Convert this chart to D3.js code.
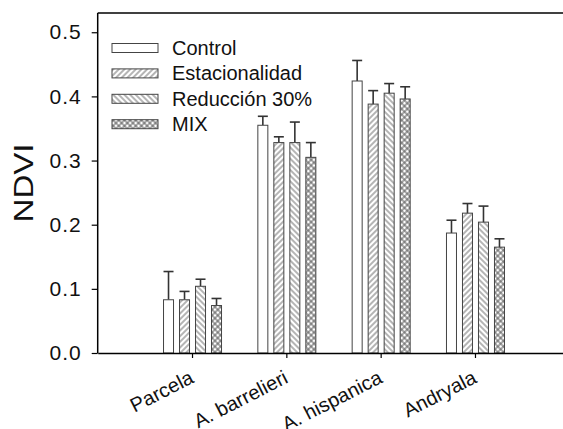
<!DOCTYPE html>
<html>
<head>
<meta charset="utf-8">
<script src="https://cdn.jsdelivr.net/npm/d3@7"></script>
<style>
  html, body { margin: 0; padding: 0; background: #fff; }
  svg { display: block; font-family: "Liberation Sans", Arial, sans-serif; }
</style>
</head>
<body>
<svg id="chart" width="563" height="429"></svg>
<script>
// NDVI by plot / species under each treatment (mean and upper error)
const categories = ["Parcela", "A. barrelieri", "A. hispanica", "Andryala"];
const series = ["Control", "Estacionalidad", "Reducción 30%", "MIX"];

const controlMean = [0.083, 0.355, 0.424, 0.187];
const controlErr  = [0.044, 0.014, 0.032, 0.020];
const estacMean   = [0.083, 0.328, 0.388, 0.218];
const estacErr    = [0.013, 0.009, 0.021, 0.015];
const reducMean   = [0.104, 0.328, 0.405, 0.204];
const reducErr    = [0.011, 0.032, 0.015, 0.025];
const mixMean     = [0.074, 0.305, 0.396, 0.165];
const mixErr      = [0.011, 0.023, 0.019, 0.013];

const yTicks = [0.0, 0.1, 0.2, 0.3, 0.4, 0.5];

const means = [controlMean, estacMean, reducMean, mixMean];
const errs = [controlErr, estacErr, reducErr, mixErr];

const svg = d3.select("#chart");

// category positions 1..4 on a 0..5 axis
const x = d3.scaleLinear().domain([0, 5]).range([97.7, 569.3]);
const y = d3.scaleLinear().domain([0, 0.53]).range([353, 13]);
const inner = d3.scaleBand().domain(series).range([-29, 30]).paddingInner(0.3125).paddingOuter(0);

// fill patterns
const defs = svg.append("defs");
function hatch(id, angle) {
  const p = defs.append("pattern")
    .attr("id", id).attr("patternUnits", "userSpaceOnUse")
    .attr("width", 4).attr("height", 4)
    .attr("patternTransform", `rotate(${angle})`);
  p.append("rect").attr("width", 4).attr("height", 4).attr("fill", "#fff");
  p.append("line").attr("x1", 1).attr("y1", 0).attr("x2", 1).attr("y2", 4)
    .attr("stroke", "#6a6a6a").attr("stroke-width", 1);
}
hatch("pEst", 45);
hatch("pRed", -45);
{
  const p = defs.append("pattern")
    .attr("id", "pMix").attr("patternUnits", "userSpaceOnUse")
    .attr("width", 4).attr("height", 4)
    .attr("patternTransform", "rotate(45)");
  p.append("rect").attr("width", 4).attr("height", 4).attr("fill", "#fff");
  p.append("line").attr("x1", 1).attr("y1", 0).attr("x2", 1).attr("y2", 4)
    .attr("stroke", "#555").attr("stroke-width", 1);
  p.append("line").attr("x1", 0).attr("y1", 1).attr("x2", 4).attr("y2", 1)
    .attr("stroke", "#555").attr("stroke-width", 1);
}
const fills = ["#fff", "url(#pEst)", "url(#pRed)", "url(#pMix)"];

// bars and error bars
series.forEach((s, si) => {
  const g = svg.append("g");
  categories.forEach((c, ci) => {
    const cx = x(ci + 1) + inner(s);
    const w = inner.bandwidth();
    const m = means[si][ci];
    const top = m + errs[si][ci];
    g.append("line")
      .attr("x1", cx + w / 2).attr("x2", cx + w / 2)
      .attr("y1", y(m)).attr("y2", y(top))
      .attr("stroke", "#333").attr("stroke-width", 1.6);
    g.append("line")
      .attr("x1", cx + w / 2 - 5).attr("x2", cx + w / 2 + 5)
      .attr("y1", y(top)).attr("y2", y(top))
      .attr("stroke", "#333").attr("stroke-width", 1.6);
    g.append("rect")
      .attr("x", cx + 0.5).attr("y", y(m))
      .attr("width", w - 1).attr("height", y(0) - y(m))
      .attr("fill", fills[si]).attr("stroke", "#444").attr("stroke-width", 1);
  });
});

// frame top line
svg.append("line")
  .attr("x1", x(0)).attr("x2", x(5)).attr("y1", y(0.53)).attr("y2", y(0.53))
  .attr("stroke", "#000").attr("stroke-width", 1.5);

// y axis
const yAxis = svg.append("g")
  .attr("transform", `translate(${x(0)},0)`)
  .call(d3.axisLeft(y).tickValues(yTicks).tickFormat(d3.format(".1f")).tickSize(6).tickPadding(10).tickSizeOuter(0));
yAxis.select(".domain").attr("stroke", "#000").attr("stroke-width", 1.5)
  .attr("d", `M0,${y(0)}V${y(0.53)}`);
yAxis.selectAll(".tick line").attr("stroke", "#000").attr("stroke-width", 1.2);
yAxis.selectAll(".tick text")
  .attr("font-size", 21).attr("fill", "#111")
  .attr("font-family", "Liberation Sans, Arial, sans-serif")
  .style("letter-spacing", "1px");

// x axis
const xAxis = svg.append("g")
  .attr("transform", `translate(0,${y(0)})`)
  .call(d3.axisBottom(x).tickValues([1, 2, 3, 4]).tickFormat(() => "").tickSize(5).tickSizeOuter(0));
xAxis.select(".domain").attr("stroke", "#000").attr("stroke-width", 1.5);
xAxis.selectAll(".tick line").attr("stroke", "#000").attr("stroke-width", 1.2);

// rotated category labels
svg.append("g").selectAll("text")
  .data(categories)
  .join("text")
  .attr("transform", (d, i) => `translate(${x(i + 1) + 3},382) rotate(-27)`)
  .attr("text-anchor", "end")
  .attr("font-size", 20)
  .attr("fill", "#111")
  .text(d => d);

// y axis title
svg.append("text")
  .attr("transform", "translate(33,183) rotate(-90)")
  .attr("text-anchor", "middle")
  .attr("font-size", 28)
  .attr("fill", "#111")
  .attr("textLength", 79)
  .attr("lengthAdjust", "spacingAndGlyphs")
  .text("NDVI");

// legend
const legend = svg.append("g");
series.forEach((s, i) => {
  const cy = 48 + i * 25.4;
  legend.append("rect")
    .attr("x", 112).attr("y", cy - 4.5)
    .attr("width", 46).attr("height", 9)
    .attr("fill", fills[i]).attr("stroke", "#444").attr("stroke-width", 1);
  legend.append("text")
    .attr("x", 172).attr("y", cy + 7)
    .attr("font-size", 20).attr("fill", "#111")
    .text(s);
});
</script>
</body>
</html>
